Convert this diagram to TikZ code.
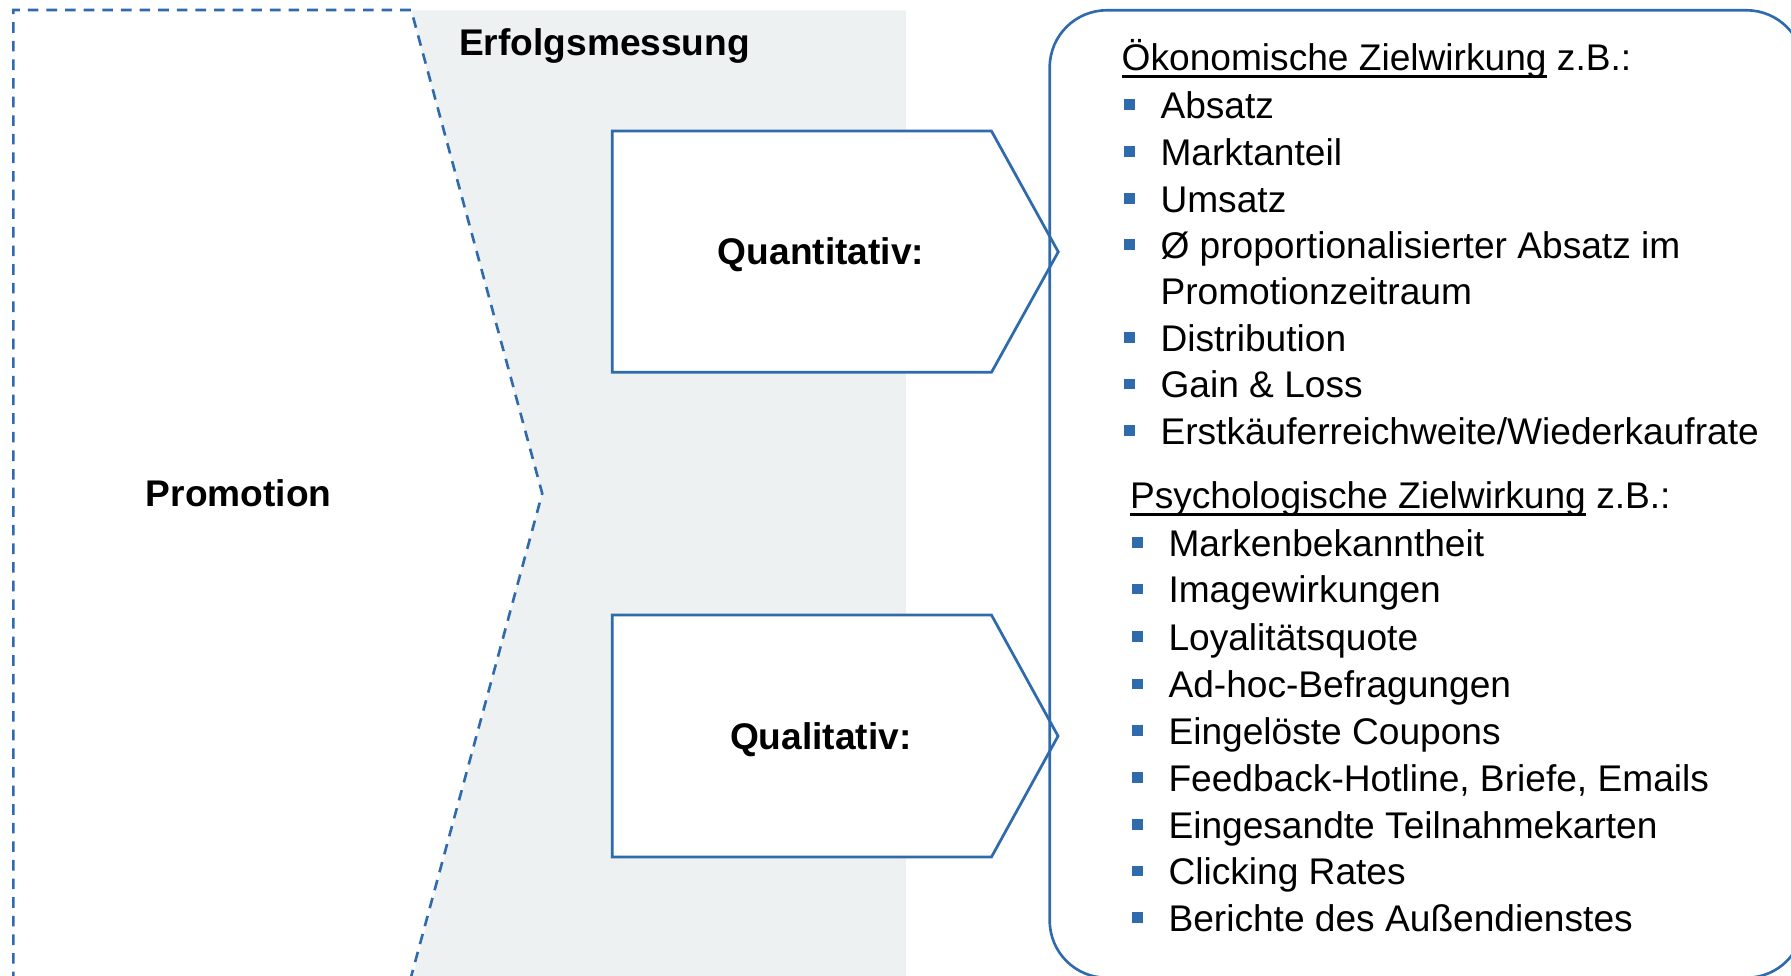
\documentclass[tikz,border=0pt]{standalone}
\usepackage{fontspec}
\setmainfont{Liberation Sans}
\definecolor{lineblue}{RGB}{46,106,172}
\definecolor{bgrey}{RGB}{237,241,242}
\begin{document}
\begin{tikzpicture}[x=1pt,y=-1pt,
  every node/.style={inner sep=0pt,outer sep=0pt},
  txt/.style={anchor=base west,font=\fontsize{32.5}{41}\selectfont},
  btxt/.style={anchor=base,font=\fontsize{32.5}{41}\selectfont\bfseries},
  bul/.style={rectangle,fill=lineblue,minimum size=9.3pt},
  pent/.style={draw=lineblue,line width=2.4pt,fill=white,line join=miter},
  dashline/.style={draw=lineblue,line width=2.3pt,dash pattern=on 9.3pt off 7pt},
  uline/.style={line width=2.3pt}]
\useasboundingbox (0,0) rectangle (1568,854);
% grey band
\fill[bgrey] (360,9) -- (793,9) -- (793,860) -- (360,860) -- (474.7,432) -- cycle;
% dashed promotion chevron
\draw[dashline] (11.7,860) -- (11.7,8.8) -- (360,8.8) -- (474.7,432) -- (358.6,860);
\node[btxt] (promo) at (209,443.5) {Promotion};
\node[btxt,anchor=base west] (erfolg) at (402,48.2) {Erfolgsmessung};
% pentagons
\draw[pent] (536,114.7) -- (868,114.7) -- (926.5,220.5) -- (868,326) -- (536,326) -- cycle;
\node[btxt] (quant) at (718.7,232) {Quantitativ:};
\draw[pent] (536,538.4) -- (868,538.4) -- (926.3,644.4) -- (868,750.3) -- (536,750.3) -- cycle;
\node[btxt] (qual) at (718.6,656.6) {Qualitativ:};
% rounded box
\draw[lineblue,line width=2.3pt,rounded corners=50pt] (919,9) rectangle (1579,856);
% section 1
\node[txt] (h1) at (982,61.8) {Ökonomische Zielwirkung};
\node[txt] (h1b) at ([xshift=9pt]h1.base east) {z.B.:};
\draw[uline] ([yshift=-5pt]h1.base west) -- ([yshift=-5pt]h1.base east);
\foreach \t/\y [count=\i] in {Absatz/103.7,Marktanteil/144.6,Umsatz/185.7,{Ø proportionalisierter Absatz im}/226.3,Distribution/307.4,{Gain \& Loss}/348.3,{Erstkäuferreichweite/Wiederkaufrate}/389.1}{
  \node[txt] (a\i) at (1016,\y) {\t};
  \node[bul] (ba\i) at (989,\y-12) {};
}
\node[txt] (a4b) at (1016,266.6) {Promotionzeitraum};
% section 2
\node[txt] (h2) at (989.3,445.6) {Psychologische Zielwirkung};
\node[txt] (h2b) at ([xshift=9pt]h2.base east) {z.B.:};
\draw[uline] ([yshift=-5pt]h2.base west) -- ([yshift=-5pt]h2.base east);
\foreach \t/\y [count=\i] in {Markenbekanntheit/486.9,Imagewirkungen/527.8,Loyalitätsquote/569.5,Ad-hoc-Befragungen/610.9,{Eingelöste Coupons}/651.8,{Feedback-Hotline, Briefe, Emails}/692.6,{Eingesandte Teilnahmekarten}/734.1,{Clicking Rates}/774.4,{Berichte des Außendienstes}/815.2}{
  \node[txt] (p\i) at (1023,\y) {\t};
  \node[bul] (bp\i) at (996,\y-12) {};
}
\end{tikzpicture}
\end{document}
